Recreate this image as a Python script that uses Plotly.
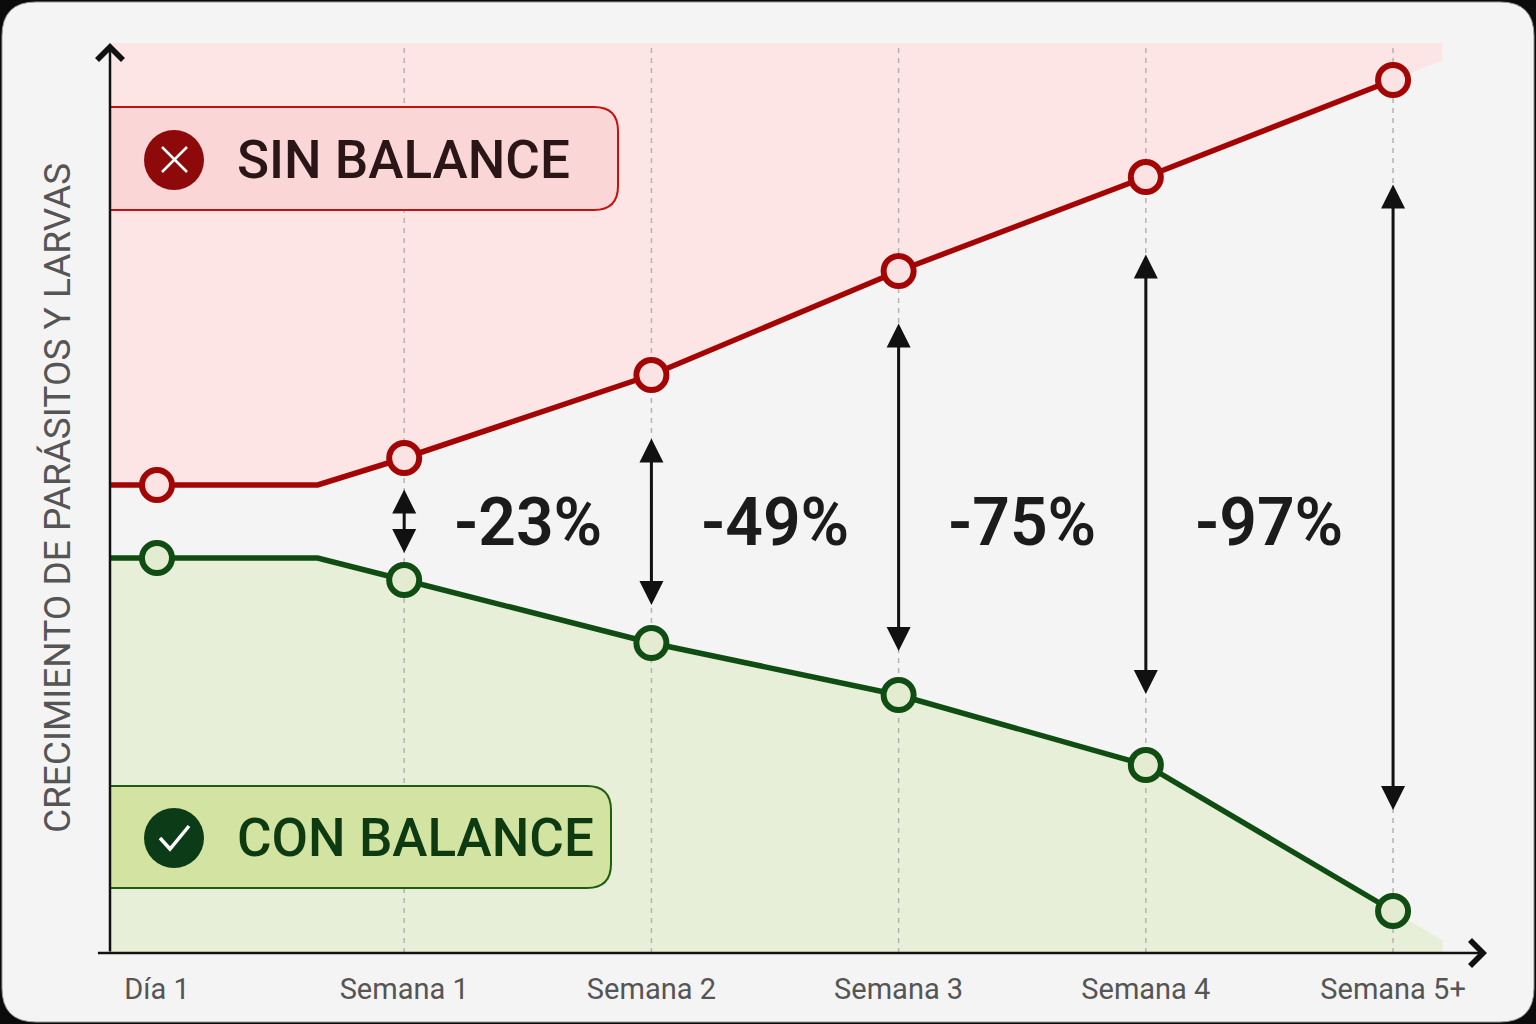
import plotly.graph_objects as go

# Datos
etiquetas = ["Día 1", "Semana 1", "Semana 2", "Semana 3", "Semana 4", "Semana 5+"]
sin_balance = [46.8, 49.5, 57.8, 68.2, 77.6, 87.3]
con_balance = [39.5, 37.3, 31.0, 25.8, 18.8, 4.2]
reducciones = ["-23%", "-49%", "-75%", "-97%"]
flecha_sup = [46.5, 51.6, 63.1, 70.0, 77.0]
flecha_inf = [40.0, 34.8, 30.2, 25.9, 14.3]

# Lienzo
W, H = 1536, 1024
M_L, M_R, M_T, M_B = 110, 49, 43, 71
X_MIN, X_MAX = -0.19, 5.38
Y_MAX = 91
MESETA = 0.65   # fin del tramo plano tras "Día 1"
EXT = 0.2       # prolongación del relleno tras el último punto

ROJO = "#a30505"
VERDE = "#0f4d12"
FUENTE = "Roboto"

pos = list(range(len(etiquetas)))


def px(x):
    return (x - M_L) / (W - M_L - M_R)


def py(y):
    return (H - M_B - y) / (H - M_T - M_B)


def rect_redondeado(x0, y0, x1, y1, rl, rr):
    # coordenadas en píxeles -> path en coordenadas "paper"
    def p(x, y):
        return f"{px(x):.5f},{py(y):.5f}"
    return (f"M{p(x0 + rl, y0)} L{p(x1 - rr, y0)} Q{p(x1, y0)} {p(x1, y0 + rr)} "
            f"L{p(x1, y1 - rr)} Q{p(x1, y1)} {p(x1 - rr, y1)} "
            f"L{p(x0 + rl, y1)} Q{p(x0, y1)} {p(x0, y1 - rl)} "
            f"L{p(x0, y0 + rl)} Q{p(x0, y0)} {p(x0 + rl, y0)} Z")


def linea(vals):
    x = [X_MIN, pos[0], MESETA] + pos[1:]
    y = [vals[0], vals[0], vals[0]] + vals[1:]
    return x, y


rx, ry = linea(sin_balance)
gx, gy = linea(con_balance)
r_ext = sin_balance[-1] + (sin_balance[-1] - sin_balance[-2]) * EXT
g_ext = max(0, con_balance[-1] + (con_balance[-1] - con_balance[-2]) * EXT)

fig = go.Figure()

# relleno rojo (por encima de la línea)
fig.add_trace(go.Scatter(
    x=rx + [pos[-1] + EXT, pos[-1] + EXT, X_MIN],
    y=ry + [r_ext, Y_MAX, Y_MAX],
    fill="toself", fillcolor="#fde5e5", mode="none", hoverinfo="skip"
))

# relleno verde (por debajo de la línea)
fig.add_trace(go.Scatter(
    x=gx + [pos[-1] + EXT], y=gy + [g_ext],
    fill="tozeroy", fillcolor="#e8efd9", mode="none", hoverinfo="skip"
))

# líneas guía verticales
gxl, gyl = [], []
for i in pos[1:]:
    gxl += [i, i, None]
    gyl += [0, Y_MAX, None]
fig.add_trace(go.Scatter(
    x=gxl, y=gyl, mode="lines",
    line=dict(color="#b3b3b3", width=1.5, dash="5px,5px"), hoverinfo="skip"
))

fig.add_trace(go.Scatter(x=rx, y=ry, mode="lines", line=dict(color=ROJO, width=5.5)))
fig.add_trace(go.Scatter(x=gx, y=gy, mode="lines", line=dict(color=VERDE, width=5.5)))

fig.add_trace(go.Scatter(
    x=pos, y=sin_balance, mode="markers",
    marker=dict(size=30, color="#fce3e3", line=dict(color=ROJO, width=6))
))
fig.add_trace(go.Scatter(
    x=pos, y=con_balance, mode="markers",
    marker=dict(size=30, color="#e3ecd0", line=dict(color=VERDE, width=6))
))

anotaciones = []

# flechas dobles
for i, (a, b) in enumerate(zip(flecha_sup, flecha_inf), start=1):
    anotaciones.append(dict(
        x=i, y=b, ax=i, ay=a, xref="x", yref="y", axref="x", ayref="y",
        text="", showarrow=True, arrowhead=2, startarrowhead=2,
        arrowside="end+start", arrowwidth=3, arrowsize=1.6, startarrowsize=1.6,
        arrowcolor="#111111"
    ))

# porcentajes
for i, t in enumerate(reducciones, start=1):
    anotaciones.append(dict(
        x=i + 0.5, y=43.1, xref="x", yref="y", text=t, showarrow=False,
        font=dict(family=FUENTE, size=66, color="#1b1b1b", weight=600)
    ))

# ejes con flecha
anotaciones.append(dict(
    x=X_MAX, y=0, ax=-0.245, ay=0, xref="x", yref="y", axref="x", ayref="y",
    text="", showarrow=True, arrowhead=4, arrowwidth=2.5, arrowsize=2,
    arrowcolor="#111111"
))
anotaciones.append(dict(
    x=X_MIN, y=Y_MAX, ax=X_MIN, ay=0, xref="x", yref="y", axref="x", ayref="y",
    text="", showarrow=True, arrowhead=4, arrowwidth=2.5, arrowsize=2,
    arrowcolor="#111111"
))

# textos de las cajas
anotaciones.append(dict(
    x=px(235), y=py(160), xref="paper", yref="paper", xanchor="left", yanchor="middle",
    text="SIN BALANCE", showarrow=False,
    font=dict(family=FUENTE, size=53, color="#2a1616", weight=500)
))
anotaciones.append(dict(
    x=px(235), y=py(838), xref="paper", yref="paper", xanchor="left", yanchor="middle",
    text="CON BALANCE", showarrow=False,
    font=dict(family=FUENTE, size=53, color="#0e3a12", weight=500)
))

formas = [
    # tarjeta de fondo
    dict(type="path", xref="paper", yref="paper", layer="below",
         path=rect_redondeado(2, 2, 1534, 1022, 34, 34),
         fillcolor="#f4f4f4", line=dict(color="#9a9a9a", width=1)),
    # caja SIN BALANCE
    dict(type="path", xref="paper", yref="paper", layer="above",
         path=rect_redondeado(110, 107, 618, 210, 0, 24),
         fillcolor="#fbd6d6", line=dict(color="#c41212", width=2)),
    dict(type="circle", xref="paper", yref="paper", layer="above",
         x0=px(144), x1=px(204), y0=py(130), y1=py(190),
         fillcolor="#8e0909", line=dict(width=0)),
    dict(type="line", xref="paper", yref="paper", layer="above",
         x0=px(162), y0=py(147), x1=px(187), y1=py(172),
         line=dict(color="white", width=2.5)),
    dict(type="line", xref="paper", yref="paper", layer="above",
         x0=px(162), y0=py(172), x1=px(187), y1=py(147),
         line=dict(color="white", width=2.5)),
    # caja CON BALANCE
    dict(type="path", xref="paper", yref="paper", layer="above",
         path=rect_redondeado(110, 786, 611, 888, 0, 24),
         fillcolor="#d3e4a2", line=dict(color="#1f5c14", width=2)),
    dict(type="circle", xref="paper", yref="paper", layer="above",
         x0=px(144), x1=px(204), y0=py(808), y1=py(868),
         fillcolor="#0c3b18", line=dict(width=0)),
    dict(type="path", xref="paper", yref="paper", layer="above",
         path=f"M{px(160)},{py(838)} L{px(170)},{py(849)} L{px(189)},{py(826)}",
         line=dict(color="white", width=3.5)),
]

fig.update_layout(
    width=W, height=H,
    margin=dict(l=M_L, r=M_R, t=M_T, b=M_B),
    paper_bgcolor="#0b0b0b",
    plot_bgcolor="rgba(0,0,0,0)",
    showlegend=False,
    annotations=anotaciones,
    shapes=formas,
    xaxis=dict(
        range=[X_MIN, X_MAX], showgrid=False, zeroline=False, showline=False,
        tickvals=pos, ticktext=etiquetas, ticks="outside", ticklen=10,
        tickcolor="rgba(0,0,0,0)",
        tickfont=dict(family=FUENTE, size=29, color="#555555")
    ),
    yaxis=dict(
        range=[0, Y_MAX], showgrid=False, zeroline=False, showline=False,
        showticklabels=False,
        title=dict(text="CRECIMIENTO DE PARÁSITOS Y LARVAS", standoff=27,
                   font=dict(family=FUENTE, size=37, color="#555555"))
    ),
)

# sin margen del <body> para que la figura ocupe la ventana exacta
fig.write_html("out.html", config={"displayModeBar": False},
               post_script="document.body.style.margin='0px';")
